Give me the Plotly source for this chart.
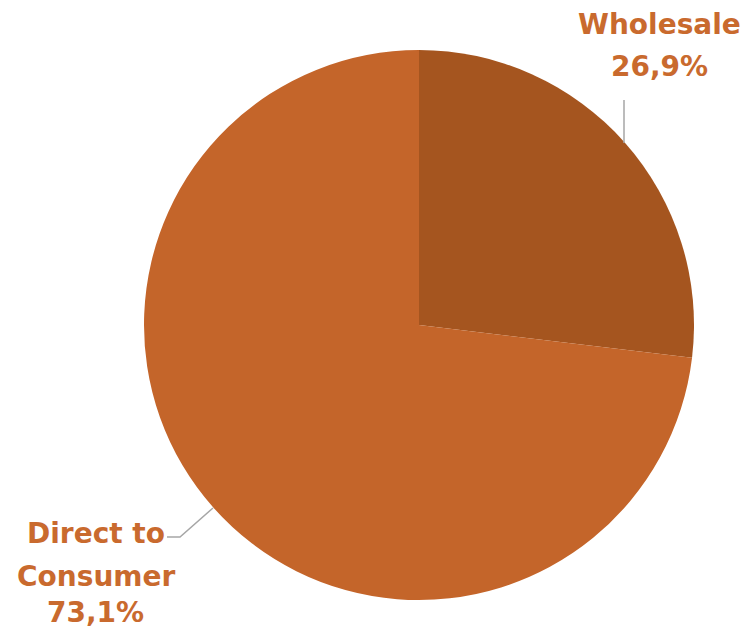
import plotly.graph_objects as go

labels = ["Wholesale", "Direct to<br>Consumer"]
values = [26.9, 73.1]
colors = ["#A5551F", "#C4652A"]
text_color = "#C96A2E"

W, H = 747, 631
cx, cy, r = 419, 325, 275

def px(x):
    return x / W

def py(y):
    return 1 - y / H

fig = go.Figure(go.Pie(
    labels=labels,
    values=values,
    sort=False,
    direction="clockwise",
    rotation=0,
    marker=dict(colors=colors, line=dict(width=0)),
    textinfo="none",
    hoverinfo="label+percent",
    showlegend=False,
    domain=dict(x=[px(cx - r), px(cx + r)], y=[py(cy + r), py(cy - r)]),
))

def fmt(v):
    return f"{v:.1f}%".replace(".", ",")

font = dict(family="DejaVu Sans", size=28, color=text_color)

def add_label(lines, xc, ys):
    for t, y in zip(lines, ys):
        fig.add_annotation(
            x=px(xc), y=py(y), xref="paper", yref="paper",
            text=f"<b>{t}</b>", showarrow=False, font=font,
            xanchor="center", yanchor="middle",
        )

add_label(labels[0].split("<br>") + [fmt(values[0])], 659, [25, 67])
add_label(labels[1].split("<br>") + [fmt(values[1])], 96, [533, 576, 612])

line = dict(color="#A6A6A6", width=1.5)
fig.add_shape(type="line", xref="paper", yref="paper",
              x0=px(624), y0=py(100), x1=px(624), y1=py(143), line=line)
fig.add_shape(type="path", xref="paper", yref="paper",
              path=f"M {px(167)},{py(537)} L {px(180)},{py(537)} L {px(213)},{py(508)}",
              line=line)

fig.update_layout(
    width=W, height=H,
    margin=dict(l=0, r=0, t=0, b=0),
    paper_bgcolor="white",
    plot_bgcolor="white",
)

fig.write_html("out.html")
